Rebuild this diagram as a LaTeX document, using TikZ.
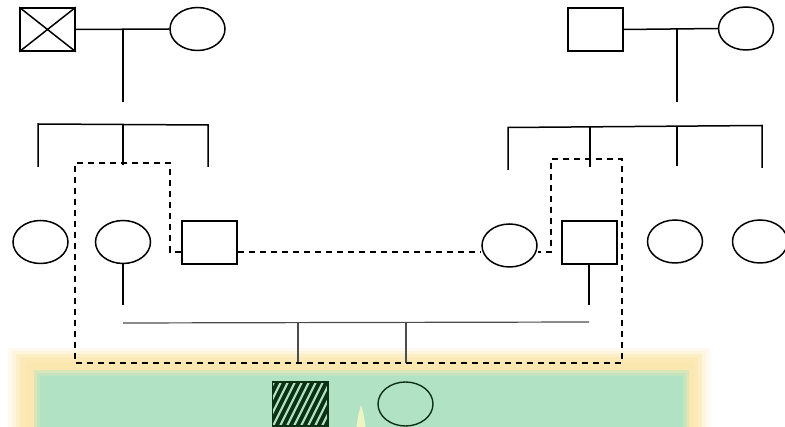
\documentclass[tikz,border=0pt]{standalone}
\usetikzlibrary{shapes.geometric}
\definecolor{glowyellow}{HTML}{FBE8B0}
\definecolor{panelgreen}{HTML}{B2E2C4}
\definecolor{darkgreen}{HTML}{0B3014}
\definecolor{stripegreen}{HTML}{AEE2BE}
\definecolor{flame}{HTML}{EEF5C4}
\begin{document}
\begin{tikzpicture}[x=1pt,y=-1pt,
  male/.style={draw, rectangle, minimum width=55pt, minimum height=43pt, inner sep=0pt, line width=1.5pt},
  female/.style={draw, ellipse, minimum width=55pt, minimum height=43pt, inner sep=0pt, line width=1.5pt},
  rel/.style={line width=1.5pt},
  kin/.style={line width=1.3pt, dash pattern=on 6.5pt off 4.5pt},
  childline/.style={line width=1.2pt, draw=black!70}]
\useasboundingbox (0,0) rectangle (785,427);

% bottom panel (soft yellow glow round a green panel)
\fill[glowyellow, opacity=0.2] (8,348) rectangle (710,427);
\fill[glowyellow, opacity=0.3] (12,351) rectangle (706,427);
\fill[glowyellow, opacity=0.45] (16,354) rectangle (702,427);
\fill[glowyellow, opacity=0.7] (20,357) rectangle (698,427);
\fill[glowyellow] (25,361) rectangle (694,427);
\fill[panelgreen!45!glowyellow] (34,370) rectangle (689,427);
\fill[panelgreen!75!glowyellow] (37,373) rectangle (686,427);
\fill[panelgreen] (40,376) rectangle (683,427);
\fill[flame] (356.5,427) -- (358.5,414) -- (361,405) -- (363.5,414) -- (365.5,427) -- cycle;

% patient (hatched)
\node[rectangle, minimum width=55pt, minimum height=44pt, inner sep=0pt, fill=darkgreen] (pt) at (300,404) {};
\begin{scope}
  \clip (pt.south west) rectangle (pt.north east);
  \foreach \x in {236,243,...,340} {
    \draw[stripegreen, line width=2.1pt] (\x,430) -- (\x+26,378);
  }
\end{scope}
\draw[darkgreen, line width=1.6pt] (pt.south west) rectangle (pt.north east);
\node[female, draw=darkgreen, line width=1.4pt, minimum width=55pt, minimum height=44pt] (sib) at (405.5,404) {};

% generation I
\node[male] (gf1) at (47.5,29.5) {};
\draw[rel] (gf1.north west) -- (gf1.south east) (gf1.south west) -- (gf1.north east);
\node[female] (gm1) at (197.5,29) {};
\node[male] (gf2) at (595.5,29.5) {};
\node[female] (gm2) at (746,28.5) {};
\draw[rel] (gf1.east) -- (gm1.west);
\draw[rel] (gf2.east) -- (gm2.west);
\coordinate (d1) at (123,102);
\coordinate (d2) at (677,102);
\draw[rel] (gf1.east -| d1) -- (d1);
\draw[rel] (gf2.east -| d2) -- (d2);

% generation II
\node[female] (e1) at (40.5,242) {};
\node[female] (e2) at (123,242) {};
\node[male] (m1) at (209.5,242.5) {};
\node[female] (e3) at (509.5,245.5) {};
\node[male] (m2) at (589.5,242.5) {};
\node[female] (e4) at (675,241.5) {};
\node[female] (e5) at (760,241.5) {};

% sibship lines
\draw[rel] (38,167) -- (38,124) -- (208,125) -- (208,167);
\draw[rel] (123,124.5) -- (123,165);
\draw[rel] (508,170) -- (508,127.5) -- (762,125.5) -- (762,168);
\draw[rel] (590,127) -- (590,167);
\draw[rel] (677,126) -- (677,166);

% descents to generation III
\coordinate (c1) at (123,305);
\coordinate (c2) at (589,305);
\draw[rel] (e2.south) -- (c1);
\draw[rel] (m2.south -| c2) -- (c2);
\draw[childline] (123,323) -- (589,322);
\draw[childline] (298,322.8) -- (298,363);
\draw[childline] (406,322.4) -- (406,363);

% consanguinity (dashed)
\draw[kin] (m1.west |- 0,252) -- (170,252) -- (170,163) -- (75,163) -- (75,363)
  -- (622,363) -- (622,159) -- (551,159) -- (551,252) -- (e3.east |- 0,252);
\draw[kin] (m1.east |- 0,252) -- (e3.west |- 0,252);
\end{tikzpicture}
\end{document}
